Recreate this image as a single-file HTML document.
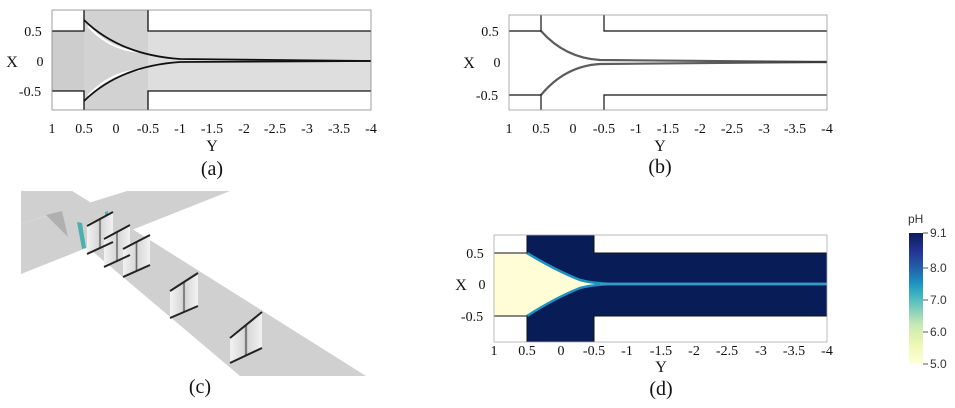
<!DOCTYPE html>
<html><head><meta charset="utf-8"><style>
html,body{margin:0;padding:0;background:#fff;}
svg{display:block;font-family:"Liberation Serif",serif;}
.t{font-size:14px;text-anchor:middle;fill:#111}
.l{font-size:16px;text-anchor:middle;fill:#111}
.p{font-size:20px;text-anchor:middle;fill:#111}
.c{font-family:"Liberation Sans",sans-serif;font-size:12px;fill:#333}
</style></head><body>
<svg width="955" height="408" viewBox="0 0 955 408">
<defs>
<linearGradient id="cb" x1="0" y1="1" x2="0" y2="0">
<stop offset="0" stop-color="#ffffd9"/><stop offset="0.15" stop-color="#edf8b1"/>
<stop offset="0.3" stop-color="#c7e9b4"/><stop offset="0.42" stop-color="#7fcdbb"/>
<stop offset="0.52" stop-color="#41b6c4"/><stop offset="0.62" stop-color="#1d91c0"/>
<stop offset="0.74" stop-color="#225ea8"/><stop offset="0.86" stop-color="#253494"/>
<stop offset="1" stop-color="#081d58"/></linearGradient>
<linearGradient id="sl" x1="0" y1="0" x2="1" y2="0">
<stop offset="0" stop-color="#f2f2f2"/><stop offset="0.45" stop-color="#d8d8d8"/><stop offset="0.5" stop-color="#555"/><stop offset="0.55" stop-color="#d8d8d8"/><stop offset="1" stop-color="#f2f2f2"/></linearGradient>
</defs>

<!-- Panel (a) -->
<g>
<rect x="52" y="31" width="32" height="60" fill="#cdcdcd"/>
<rect x="84" y="10" width="64" height="100" fill="#d2d2d2"/>
<rect x="148" y="31" width="223" height="60" fill="#dedede"/>
<path d="M88,26 Q110,50 140,52" stroke="#fff" stroke-width="2" fill="none"/>
<path d="M88,96 Q110,72 140,70" stroke="#fff" stroke-width="2" fill="none"/>
<path d="M84,20 Q120,55 180,59 L371,61" stroke="#111" stroke-width="1.8" fill="none"/>
<path d="M84,101 Q120,66 180,62 L371,61" stroke="#111" stroke-width="1.8" fill="none"/>
<path d="M52,31 H84 V10 M148,10 V31 H371 M52,91 H84 V110 M148,110 V91 H371" stroke="#111" stroke-width="1.3" fill="none"/>
<rect x="52" y="10" width="319" height="100" fill="none" stroke="#888" stroke-width="0.8"/>
</g>
<g class="t">
<text x="52" y="133">1</text><text x="84" y="133">0.5</text><text x="116" y="133">0</text><text x="148" y="133">-0.5</text><text x="180" y="133">-1</text><text x="212" y="133">-1.5</text><text x="244" y="133">-2</text><text x="275" y="133">-2.5</text><text x="307" y="133">-3</text><text x="339" y="133">-3.5</text><text x="371" y="133">-4</text>
<text x="33" y="36">0.5</text><text x="40" y="66">0</text><text x="30" y="96">-0.5</text>
</g>
<text class="l" x="12" y="67">X</text>
<text class="l" x="212" y="151">Y</text>
<text class="p" x="212" y="175">(a)</text>

<!-- Panel (b) -->
<g>
<path d="M541,31 Q565,58 600,60 L827,62" stroke="#333" stroke-width="2.2" fill="none" opacity="0.8"/>
<path d="M541,95 Q565,66 600,64 L827,62" stroke="#333" stroke-width="2.2" fill="none" opacity="0.8"/>
<path d="M509,31 H541 V15 M604,15 V31 H827 M509,95 H541 V110 M604,110 V95 H827" stroke="#111" stroke-width="1.2" fill="none"/>
<rect x="509" y="15" width="318" height="95" fill="none" stroke="#999" stroke-width="0.8"/>
</g>
<g class="t">
<text x="509" y="133">1</text><text x="541" y="133">0.5</text><text x="573" y="133">0</text><text x="604" y="133">-0.5</text><text x="636" y="133">-1</text><text x="668" y="133">-1.5</text><text x="700" y="133">-2</text><text x="732" y="133">-2.5</text><text x="764" y="133">-3</text><text x="795" y="133">-3.5</text><text x="827" y="133">-4</text>
<text x="490" y="36">0.5</text><text x="497" y="67">0</text><text x="487" y="100">-0.5</text>
</g>
<text class="l" x="469" y="68">X</text>
<text class="l" x="660" y="151">Y</text>
<text class="p" x="660" y="173">(b)</text>

<!-- Panel (c) -->
<g>
<polygon points="21,191 72,191 366,376 240,376" fill="#d0d0d0"/>
<polygon points="21,224 127,191 230,191 21,274" fill="#d0d0d0"/>
<polygon points="21,191 72,191 90,202 21,224" fill="#d0d0d0"/>
<polygon points="46,215 62,211 68,237" fill="#b0b0b0"/>
<polygon points="77,222 82,223 86,248 82,249" fill="#4ab0b0"/>
<polygon points="105,212 108,211 108,220 105,221" fill="#4ab0b0"/>
<g>
<polygon points="87,224 113,212 113,242 87,254" fill="url(#sl)"/>
<polygon points="104,237 130,225 130,255 104,267" fill="url(#sl)"/>
<polygon points="123,247 150,235 150,265 123,277" fill="url(#sl)"/>
<polygon points="170,289 198,273 198,306 170,318" fill="url(#sl)"/>
<polygon points="230,336 262,312 262,348 230,363" fill="url(#sl)"/>
<path d="M87,226 L113,212 M87,254 L113,242 M104,239 L130,225 M104,267 L130,255 M123,249 L150,235 M123,277 L150,265 M170,291 L198,273 M170,318 L198,306 M230,338 L262,312 M230,363 L262,348" stroke="#222" stroke-width="2"/>
</g>
</g>
<text class="p" x="200" y="393">(c)</text>

<!-- Panel (d) -->
<g>
<rect x="527" y="235" width="67" height="107" fill="#081d58"/>
<rect x="594" y="253" width="233" height="63" fill="#081d58"/>
<rect x="494" y="253" width="33" height="63" fill="#fffdd6"/>
<path d="M527,253 Q555,270 580,280 Q595,284 620,284 Q595,284 580,288 Q555,298 527,316 Z" fill="#fffdd6"/>
<path d="M527,253 Q555,270 580,280 Q595,284 620,284 M527,316 Q555,298 580,288 Q595,284 620,284" fill="none" stroke="#1d91c0" stroke-width="2.5"/>
<path d="M600,284 H827" stroke="#2a7fbf" stroke-width="3"/>
<path d="M600,284 H827" stroke="#41b6c4" stroke-width="1"/>
<path d="M494,253 H527 V235 M594,235 V253 H827 M494,316 H527 V342 M594,342 V316 H827" stroke="#111" stroke-width="1" fill="none"/>
<rect x="494" y="235" width="333" height="107" fill="none" stroke="#aaa" stroke-width="0.8"/>
</g>
<g class="t">
<text x="494" y="355">1</text><text x="527" y="355">0.5</text><text x="561" y="355">0</text><text x="594" y="355">-0.5</text><text x="627" y="355">-1</text><text x="661" y="355">-1.5</text><text x="694" y="355">-2</text><text x="727" y="355">-2.5</text><text x="761" y="355">-3</text><text x="794" y="355">-3.5</text><text x="827" y="355">-4</text>
<text x="475" y="258">0.5</text><text x="482" y="289">0</text><text x="472" y="321">-0.5</text>
</g>
<text class="l" x="461" y="290">X</text>
<text class="l" x="661" y="372">Y</text>
<text class="p" x="661" y="395">(d)</text>

<!-- Colorbar -->
<rect x="909" y="233" width="14" height="131" fill="url(#cb)"/>
<text class="c" x="908" y="223">pH</text>
<g stroke="#555" stroke-width="1">
<line x1="923" y1="233" x2="928" y2="233"/><line x1="923" y1="268" x2="928" y2="268"/><line x1="923" y1="300" x2="928" y2="300"/><line x1="923" y1="332" x2="928" y2="332"/><line x1="923" y1="364" x2="928" y2="364"/>
</g>
<g class="c">
<text x="930" y="237">9.1</text><text x="930" y="272">8.0</text><text x="930" y="304">7.0</text><text x="930" y="336">6.0</text><text x="930" y="368">5.0</text>
</g>
</svg>
</body></html>
